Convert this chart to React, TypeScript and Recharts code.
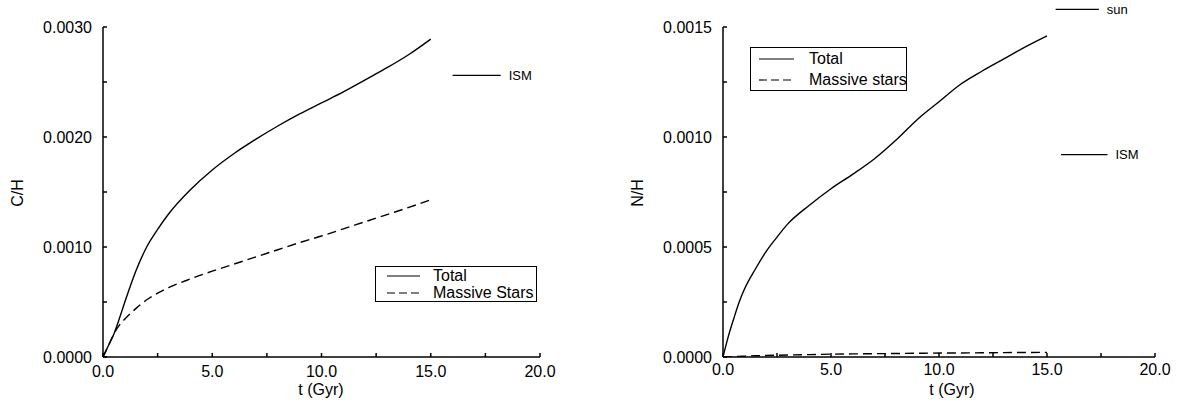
import React from 'react';
import { LineChart, Line, XAxis, YAxis, ReferenceLine, Legend, Label } from 'recharts';

const FONT = '"Liberation Sans", Arial, Helvetica, sans-serif';

// time axis (Gyr)
const timeGyr = [0, 0.25, 0.5, 0.75, 1, 1.5, 2, 2.5, 3, 4, 5, 6, 7, 8, 9, 10, 11, 12, 13, 14, 15];

// C/H panel
const cTotal = [0, 0.000105, 0.00021, 0.00035, 0.0005, 0.00078, 0.001, 0.00116, 0.0013, 0.00152, 0.0017, 0.00185, 0.00198, 0.0021, 0.00221, 0.00231, 0.00241, 0.00252, 0.00263, 0.00275, 0.00289];
const cMassive = [0, 0.000105, 0.00021, 0.00029, 0.000345, 0.00044, 0.00052, 0.00058, 0.00063, 0.00071, 0.00078, 0.000845, 0.00091, 0.000975, 0.00104, 0.0011, 0.001165, 0.00123, 0.001295, 0.00136, 0.00143];

// N/H panel
const nTotal = [0, 0.000095, 0.000175, 0.00025, 0.00031, 0.0004, 0.00048, 0.000545, 0.000605, 0.00069, 0.000765, 0.00083, 0.0009, 0.000985, 0.00108, 0.00116, 0.00124, 0.0013, 0.001355, 0.00141, 0.00146];
const nMassive = [0, 0.000001, 0.000002, 0.000003, 0.000004, 0.0000055, 0.000007, 0.000008, 0.000009, 0.000011, 0.000013, 0.000014, 0.000015, 0.000016, 0.000017, 0.000018, 0.0000185, 0.000019, 0.00002, 0.0000205, 0.000021];

// reference marks
const cIsmLevel = 0.00256;
const cIsmSpan = [16.0, 18.2];
const nIsmLevel = 0.00092;
const nIsmSpan = [15.65, 17.8];
const nSunLevel = 0.00158;
const nSunSpan = [15.4, 17.4];

// ticks
const xTicks = [0, 2.5, 5, 7.5, 10, 12.5, 15, 17.5, 20];
const xMajor = [0, 5, 10, 15, 20];
const cTicks = [0, 0.0005, 0.001, 0.0015, 0.002, 0.0025, 0.003];
const cMajor = [0, 0.001, 0.002, 0.003];
const nTicks = [0, 0.00025, 0.0005, 0.00075, 0.001, 0.00125, 0.0015];
const nMajor = [0, 0.0005, 0.001, 0.0015];

const cData = timeGyr.map((t, i) => ({ t, total: cTotal[i], massive: cMassive[i] }));
const nData = timeGyr.map((t, i) => ({ t, total: nTotal[i], massive: nMassive[i] }));

const isIn = (v: number, arr: number[]) => arr.some((a) => Math.abs(a - v) < 1e-9);
const fmtX = (v: number) => (isIn(v, xMajor) ? v.toFixed(1) : '');
const fmtC = (v: number) => (isIn(v, cMajor) ? v.toFixed(4) : '');
const fmtN = (v: number) => (isIn(v, nMajor) ? v.toFixed(4) : '');
const blank = () => '';

const tickStyle = { fontSize: 16, fill: '#000', fontFamily: FONT };

type LegendBox = { width: number; rowH: number; lineW: number; padL: number; gap: number; padT: number };

const isDashed = (e: any) => (e && e.payload && e.payload.strokeDasharray ? 1 : 0);

const makeLegend = (box: LegendBox) => (props: any) => {
  const payload = (props.payload || []).slice().sort((a: any, b: any) => isDashed(a) - isDashed(b));
  return (
    <div
      style={{
        width: box.width,
        border: '1px solid #000',
        boxSizing: 'border-box',
        background: '#fff',
        paddingTop: box.padT,
        fontFamily: FONT,
        fontSize: 16,
        color: '#000',
        lineHeight: `${box.rowH}px`,
      }}
    >
      {payload.map((e: any) => (
        <div key={String(e.value)} style={{ display: 'flex', alignItems: 'center', height: box.rowH, whiteSpace: 'nowrap', paddingLeft: box.padL }}>
          <svg width={box.lineW} height={4} style={{ marginRight: box.gap, flex: 'none' }}>
            <line x1={0} y1={2} x2={box.lineW} y2={2} stroke="#000" strokeWidth={1.2} strokeDasharray={isDashed(e) ? '8 4' : undefined} />
          </svg>
          <span>{e.value}</span>
        </div>
      ))}
    </div>
  );
};

const yTitle = (text: string, cx: number, cy: number) => () => (
  <text x={cx} y={cy} transform={`rotate(-90 ${cx} ${cy})`} textAnchor="middle" dominantBaseline="central" fontSize={16} fontFamily={FONT} fill="#000">
    {text}
  </text>
);
const xTitle = (text: string, cx: number, by: number) => () => (
  <text x={cx} y={by} textAnchor="middle" fontSize={16} fontFamily={FONT} fill="#000">
    {text}
  </text>
);

const refLabel = (text: string) => ({ value: text, position: 'right' as const, offset: 8, fontSize: 13, fill: '#000', fontFamily: FONT });

export default function App() {
  return (
    <div style={{ position: 'absolute', left: 0, top: 0, width: 1178, height: 404, background: '#fff' }}>
      <div style={{ position: 'absolute', left: 0, top: 0 }}>
        <LineChart width={589} height={404} data={cData} margin={{ top: 27, right: 49, bottom: 17, left: 43 }}>
          <XAxis dataKey="t" type="number" domain={[0, 20]} ticks={xTicks} interval={0} allowDataOverflow tickFormatter={fmtX} tickSize={-4} tickMargin={13} height={30} stroke="#000" strokeWidth={1.5} tick={tickStyle}>
            <Label content={xTitle('t (Gyr)', 321, 395)} />
          </XAxis>
          <XAxis xAxisId="top" orientation="top" type="number" domain={[0, 20]} ticks={xTicks} interval={0} allowDataOverflow tickFormatter={blank} tickSize={-4} height={0} stroke="#000" strokeWidth={1.5} />
          <YAxis type="number" domain={[0, 0.003]} ticks={cTicks} interval={0} allowDataOverflow tickFormatter={fmtC} tickSize={-4} tickMargin={15} width={60} stroke="#000" strokeWidth={1.5} tick={tickStyle}>
            <Label content={yTitle('C/H', 17, 193)} />
          </YAxis>
          <YAxis yAxisId="right" orientation="right" type="number" domain={[0, 0.003]} ticks={cTicks} interval={0} allowDataOverflow tickFormatter={blank} tickSize={-4} width={0} stroke="#000" strokeWidth={1.5} />
          <Line type="monotone" dataKey="total" name="Total" stroke="#000" strokeWidth={1.4} dot={false} activeDot={false} isAnimationActive={false} />
          <Line type="monotone" dataKey="massive" name="Massive Stars" stroke="#000" strokeWidth={1.4} strokeDasharray="9 5" dot={false} activeDot={false} isAnimationActive={false} />
          <ReferenceLine segment={[{ x: cIsmSpan[0], y: cIsmLevel }, { x: cIsmSpan[1], y: cIsmLevel }]} stroke="#000" strokeWidth={1.2} ifOverflow="visible" label={refLabel('ISM')} />
          <Legend layout="vertical" align="center" verticalAlign="middle" wrapperStyle={{ left: 375, top: 266, width: 162 }} content={makeLegend({ width: 162, rowH: 17, lineW: 33, padL: 11, gap: 13, padT: 0 })} />
        </LineChart>
      </div>
      <div style={{ position: 'absolute', left: 589, top: 0 }}>
        <LineChart width={589} height={404} data={nData} margin={{ top: 27, right: 23, bottom: 17, left: 74 }}>
          <XAxis dataKey="t" type="number" domain={[0, 20]} ticks={xTicks} interval={0} allowDataOverflow tickFormatter={fmtX} tickSize={-4} tickMargin={11} height={30} stroke="#000" strokeWidth={1.5} tick={tickStyle}>
            <Label content={xTitle('t (Gyr)', 363, 395)} />
          </XAxis>
          <XAxis xAxisId="top" orientation="top" type="number" domain={[0, 20]} ticks={xTicks} interval={0} allowDataOverflow tickFormatter={blank} tickSize={-4} height={0} stroke="#000" strokeWidth={1.5} />
          <YAxis type="number" domain={[0, 0.0015]} ticks={nTicks} interval={0} allowDataOverflow tickFormatter={fmtN} tickSize={-4} tickMargin={15} width={60} stroke="#000" strokeWidth={1.5} tick={tickStyle}>
            <Label content={yTitle('N/H', 48, 193)} />
          </YAxis>
          <YAxis yAxisId="right" orientation="right" type="number" domain={[0, 0.0015]} ticks={nTicks} interval={0} allowDataOverflow tickFormatter={blank} tickSize={-4} width={0} stroke="#000" strokeWidth={1.5} />
          <Line type="monotone" dataKey="total" name="Total" stroke="#000" strokeWidth={1.4} dot={false} activeDot={false} isAnimationActive={false} />
          <Line type="monotone" dataKey="massive" name="Massive stars" stroke="#000" strokeWidth={1.4} strokeDasharray="9 5" dot={false} activeDot={false} isAnimationActive={false} />
          <ReferenceLine segment={[{ x: nIsmSpan[0], y: nIsmLevel }, { x: nIsmSpan[1], y: nIsmLevel }]} stroke="#000" strokeWidth={1.2} ifOverflow="visible" label={refLabel('ISM')} />
          <ReferenceLine segment={[{ x: nSunSpan[0], y: nSunLevel }, { x: nSunSpan[1], y: nSunLevel }]} stroke="#000" strokeWidth={1.2} ifOverflow="visible" label={refLabel('sun')} />
          <Legend layout="vertical" align="center" verticalAlign="middle" wrapperStyle={{ left: 161, top: 47, width: 157 }} content={makeLegend({ width: 157, rowH: 21, lineW: 35, padL: 8, gap: 15, padT: 0 })} />
        </LineChart>
      </div>
    </div>
  );
}
